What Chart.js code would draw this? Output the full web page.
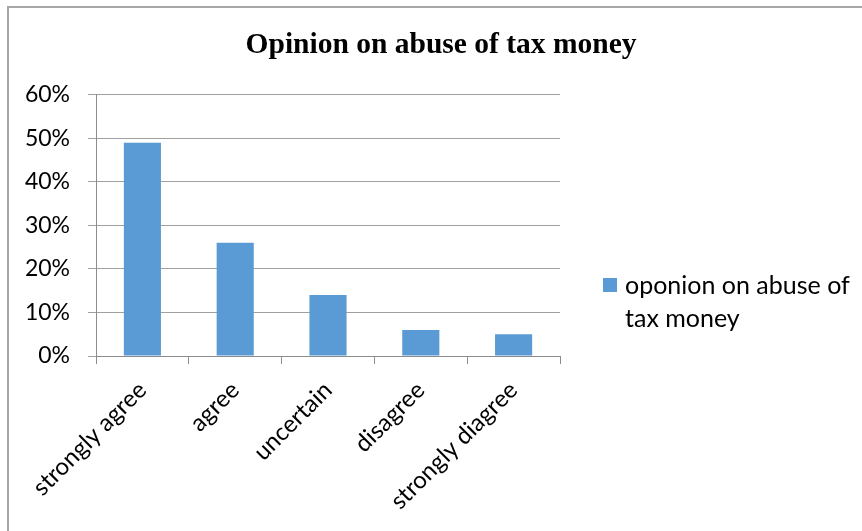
<!DOCTYPE html>
<html>
<head>
<meta charset="utf-8">
<script src="https://cdn.jsdelivr.net/npm/chart.js@4.4.1/dist/chart.umd.min.js"></script>
<style>
  html, body { margin: 0; padding: 0; background: #fff; }
  #wrap { position: relative; width: 862px; height: 531px; overflow: hidden; }
  #frame { position: absolute; left: 7px; top: 6px; width: 900px; height: 600px;
           border-top: 2px solid #a6a6a6; border-left: 2px solid #a6a6a6; }
  #c { position: absolute; left: 0; top: 0; }
  #legend { position: absolute; left: 603px; top: 268px; font-family: Lato, "Liberation Sans", sans-serif;
            font-size: 25px; line-height: 33px; color: #000; }
  #legend .sw { position: absolute; left: 0; top: 10px; width: 14px; height: 14px; background: #5b9bd5; }
  #legend .tx { margin-left: 22px; white-space: nowrap; }
</style>
</head>
<body>
<div id="wrap">
  <div id="frame"></div>
  <canvas id="c" width="862" height="531"></canvas>
  <div id="legend"><div class="sw"></div><div class="tx">oponion on abuse of<br>tax money</div></div>
</div>
<script>
const chartTitle = "Opinion on abuse of tax money";
const categories = ["strongly agree", "agree", "uncertain", "disagree", "strongly diagree"];
const seriesName = "oponion on abuse of tax money";
const seriesValues = [0.49, 0.26, 0.14, 0.06, 0.05];
const yTicks = [0, 0.1, 0.2, 0.3, 0.4, 0.5, 0.6];

const gridColor = '#a0a0a0';
const axisColor = '#8c8c8c';

new Chart(document.getElementById('c'), {
  type: 'bar',
  data: {
    labels: categories,
    datasets: [{
      label: seriesName,
      data: seriesValues,
      backgroundColor: '#5b9bd5',
      borderWidth: 0,
      categoryPercentage: 1.0,
      barPercentage: 0.4
    }]
  },
  options: {
    responsive: false,
    animation: false,
    devicePixelRatio: 1,
    layout: { padding: { left: 20, right: 0, top: 0, bottom: 0 } },
    plugins: {
      legend: { display: false },
      tooltip: { enabled: false },
      title: {
        display: true,
        text: chartTitle,
        color: '#000',
        font: { family: '"Liberation Serif", "Times New Roman", serif', size: 29.5, weight: 'bold', lineHeight: 1.2 },
        padding: { top: 27.3, bottom: 32.1 }
      }
    },
    scales: {
      x: {
        grid: { display: true, drawOnChartArea: false, drawTicks: true, tickLength: 8, color: axisColor, offset: true },
        border: { display: true, color: axisColor, width: 1 },
        ticks: {
          color: '#000',
          font: { family: 'Lato, "Liberation Sans", sans-serif', size: 24 },
          minRotation: 45, maxRotation: 45,
          padding: 12,
          autoSkip: false
        },
        afterFit: (s) => { s.height = 175; }
      },
      y: {
        min: 0, max: 0.6,
        afterBuildTicks: (s) => { s.ticks = yTicks.map(v => ({ value: v })); },
        grid: { color: gridColor, tickLength: 8, drawTicks: true },
        border: { display: true, color: axisColor, width: 1 },
        ticks: {
          color: '#000',
          font: { family: 'Lato, "Liberation Sans", sans-serif', size: 23 },
          padding: 18,
          callback: (v) => Math.round(v * 100) + '%'
        },
        afterFit: (s) => { s.width = 76; }
      },
      yRight: {
        position: 'right',
        display: true,
        grid: { display: false },
        border: { display: false },
        ticks: { display: false },
        afterFit: (s) => { s.width = 302; }
      }
    }
  }
});
</script>
</body>
</html>
